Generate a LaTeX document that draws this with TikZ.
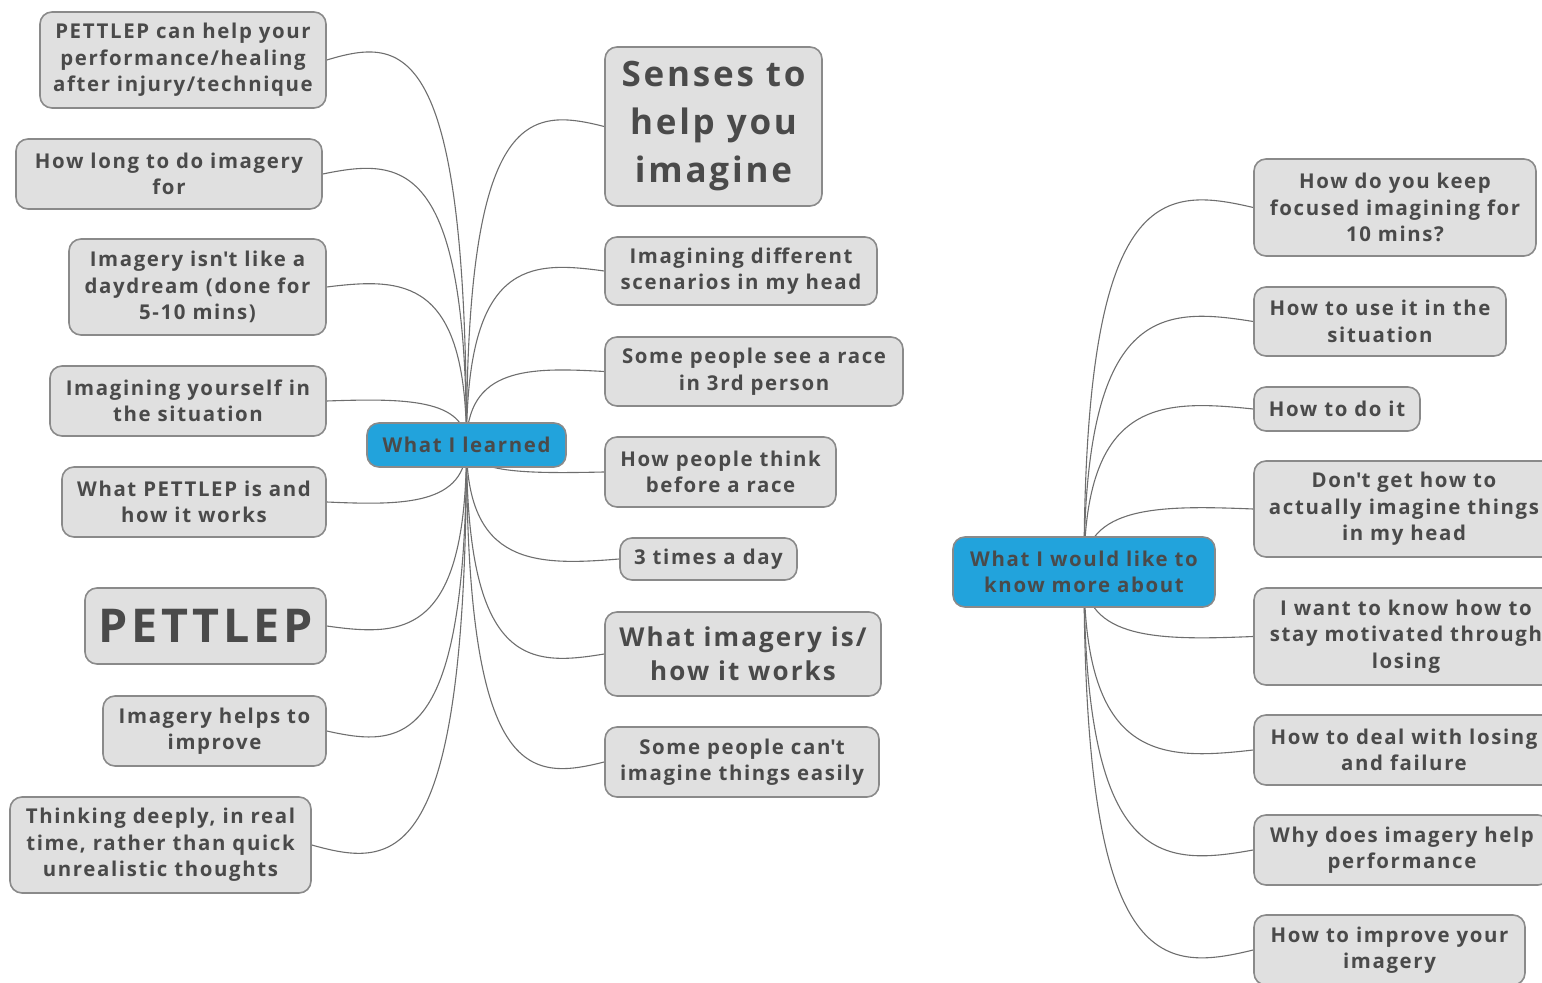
\documentclass[tikz,border=0pt]{standalone}
\usepackage{fontspec}
\setmainfont{Open Sans}[LetterSpace=8]
\usetikzlibrary{calc,backgrounds}

\definecolor{ink}{HTML}{4A4A4A}
\definecolor{boxfill}{HTML}{E0E0E0}
\definecolor{boxline}{HTML}{8A8A8A}
\definecolor{hubblue}{HTML}{22A3DC}
\definecolor{linegray}{HTML}{6E6E6E}

\tikzset{
  topic/.style={draw=boxline, line width=0.8pt, fill=boxfill, rounded corners=6pt,
    align=center, text=ink, inner sep=0pt,
    font=\bfseries\fontsize{10.2}{13.25}\selectfont},
  hub/.style={topic, fill=hubblue},
  sz/.style 2 args={minimum width=#1*0.5pt, minimum height=#2*0.5pt},
  conn/.style={draw=linegray, line width=0.55pt},
}

% curved branch from a hub centre to the side of a topic box
\newcommand\branch[2]{%
  \draw[conn] let \p1=(#1.center), \p2=(#2) in
    (\p1) .. controls (\x1, {\y2+0.06*(\y2-\y1)})
               and ({\x1+0.45*(\x2-\x1)}, {\y2+0.06*(\y2-\y1)}) .. (\p2);}
\newcommand\ap{\textquotesingle}

\begin{document}
\begin{tikzpicture}[x=0.5pt, y=-0.5pt]
\useasboundingbox (0,0) rectangle (1542,983);
\clip (0,0) rectangle (1542,983);

% hubs
\node[hub, sz={199}{44}] (learned) at (466.5,445) {What I learned};
\node[hub, sz={262}{70}] (more) at (1084,572) {What I would like to\\know more about};

% left column
\node[topic, sz={286}{96}] (l1) at (183,60) {PETTLEP can help your\\performance/healing\\after injury/technique};
\node[topic, sz={306}{70}] (l2) at (169,174) {How long to do imagery\\for};
\node[topic, sz={257}{96}] (l3) at (197.5,287) {Imagery isn\ap t like a\\daydream (done for\\5-10 mins)};
\node[topic, sz={276}{70}] (l4) at (188,401) {Imagining yourself in\\the situation};
\node[topic, sz={264}{70}] (l5) at (194,502) {What PETTLEP is and\\how it works};
\node[topic, sz={241}{76}, font=\bfseries\fontsize{23.3}{28}\selectfont] (l6) at (205.5,626) {PETTLEP};
\node[topic, sz={223}{70}] (l7) at (214.5,731) {Imagery helps to\\improve};
\node[topic, sz={301}{96}] (l8) at (160.5,845) {Thinking deeply, in real\\time, rather than quick\\unrealistic thoughts};

% middle column
\node[topic, sz={217}{159}, font=\bfseries\fontsize{17.5}{24}\selectfont] (r1) at (713.5,126.5) {Senses to\\help you\\imagine};
\node[topic, sz={272}{68}] (r2) at (741,271) {Imagining different\\scenarios in my head};
\node[topic, sz={298}{69}] (r3) at (754,371.5) {Some people see a race\\in 3rd person};
\node[topic, sz={231}{70}] (r4) at (720.5,472) {How people think\\before a race};
\node[topic, sz={177}{42}] (r5) at (708.5,559) {3 times a day};
\node[topic, sz={276}{84}, font=\bfseries\fontsize{13}{17}\selectfont] (r6) at (743,654) {What imagery is/\\how it works};
\node[topic, sz={274}{70}] (r7) at (742,762) {Some people can\ap t\\imagine things easily};

% right column
\node[topic, sz={282}{97}] (s1) at (1395,207.5) {How do you keep\\focused imagining for\\10 mins?};
\node[topic, sz={252}{69}] (s2) at (1380,321.5) {How to use it in the\\situation};
\node[topic, sz={166}{44}] (s3) at (1337,409) {How to do it};
\node[topic, sz={300}{96}] (s4) at (1404,509) {Don\ap t get how to\\actually imagine things\\in my head};
\node[topic, sz={304}{97}] (s5) at (1406,636.5) {I want to know how to\\stay motivated through\\losing};
\node[topic, sz={300}{70}] (s6) at (1404,750) {How to deal with losing\\and failure};
\node[topic, sz={296}{70}] (s7) at (1402,850) {Why does imagery help\\performance};
\node[topic, sz={271}{70}] (s8) at (1389.5,950) {How to improve your\\imagery};

\begin{scope}[on background layer]
  \foreach \q in {l1,l2,l3,l4,l5,l6,l7,l8} {\branch{learned}{\q.east}}
  \foreach \q in {r1,r2,r3,r4,r5,r6,r7} {\branch{learned}{\q.west}}
  \foreach \q in {s1,s2,s3,s4,s5,s6,s7,s8} {\branch{more}{\q.west}}
\end{scope}
\end{tikzpicture}
\end{document}
